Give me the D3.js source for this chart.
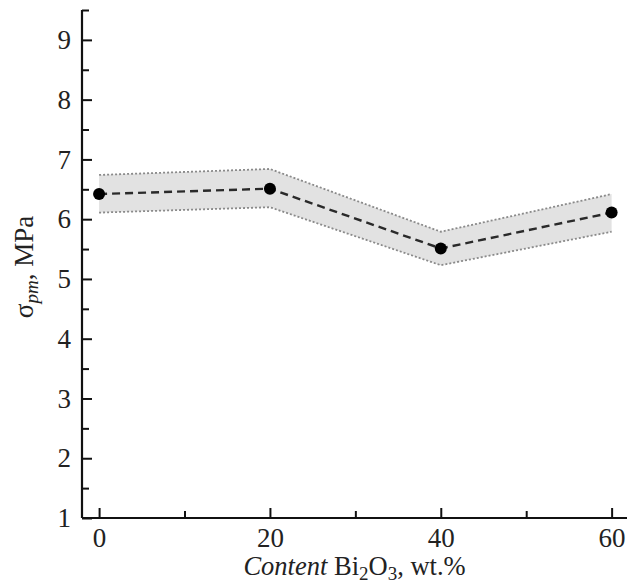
<!DOCTYPE html>
<html>
<head>
<meta charset="utf-8">
<script src="https://cdn.jsdelivr.net/npm/d3@7"></script>
<style>
  body { margin: 0; background: #fff; }
  text { font-family: "Liberation Serif", "DejaVu Serif", serif; fill: #222; }
</style>
</head>
<body>
<div id="container"></div>
<script>
const contents = [0, 20, 40, 60];
const stress = [6.42, 6.51, 5.51, 6.11];
const upper = [6.74, 6.84, 5.79, 6.42];
const lower = [6.11, 6.2, 5.23, 5.79];
const xTicks = [0, 20, 40, 60];
const yTicks = [1, 2, 3, 4, 5, 6, 7, 8, 9];

const data = contents.map((c, i) => ({
  x: c, y: stress[i], hi: upper[i], lo: lower[i]
}));

const margin = {top: 10, right: 10, bottom: 65, left: 82};
const width = 637 - margin.left - margin.right;
const height = 583 - margin.top - margin.bottom;

const svg = d3.select("#container")
  .append("svg")
  .attr("width", 637)
  .attr("height", 583)
  .append("g")
  .attr("transform", "translate(" + margin.left + "," + margin.top + ")");

const x = d3.scaleLinear().domain([-2, 61.8]).range([0, width]);
const y = d3.scaleLinear().domain([1, 9.5]).range([height, 0]);

// shaded band
const area = d3.area()
  .x(d => x(d.x))
  .y0(d => y(d.lo))
  .y1(d => y(d.hi));

svg.append("path")
  .datum(data)
  .attr("d", area)
  .attr("fill", "#e2e2e2");

["hi", "lo"].forEach(k => {
  svg.append("path")
    .datum(data)
    .attr("d", d3.line().x(d => x(d.x)).y(d => y(d[k])))
    .attr("fill", "none")
    .attr("stroke", "#8a8a8a")
    .attr("stroke-width", 1.8)
    .attr("stroke-dasharray", "2,2");
});

// dashed mean line
svg.append("path")
  .datum(data)
  .attr("d", d3.line().x(d => x(d.x)).y(d => y(d.y)))
  .attr("fill", "none")
  .attr("stroke", "#2a2a2a")
  .attr("stroke-width", 2.4)
  .attr("stroke-dasharray", "8,5");

svg.selectAll(".dot")
  .data(data)
  .enter()
  .append("circle")
  .attr("class", "dot")
  .attr("cx", d => x(d.x))
  .attr("cy", d => y(d.y))
  .attr("r", 6)
  .attr("fill", "#000");

// axes with inward ticks
const yMinor = d3.range(1.5, 10, 1);
const xMinor = [10, 30, 50];

const yAx = svg.append("g").attr("class", "y axis")
  .call(d3.axisLeft(y).tickValues(yTicks).tickSize(-10).tickPadding(11).tickFormat(d3.format("d")));
svg.append("g")
  .call(d3.axisLeft(y).tickValues(yMinor).tickSize(-7).tickFormat(""))
  .select(".domain").remove();

const xAx = svg.append("g").attr("class", "x axis")
  .attr("transform", "translate(0," + height + ")")
  .call(d3.axisBottom(x).tickValues(xTicks).tickSize(-10).tickPadding(10).tickFormat(d3.format("d")));
svg.append("g")
  .attr("transform", "translate(0," + height + ")")
  .call(d3.axisBottom(x).tickValues(xMinor).tickSize(-7).tickFormat(""))
  .select(".domain").remove();

svg.selectAll(".domain").attr("stroke", "#111").attr("stroke-width", 2.2);
svg.selectAll(".tick line").attr("stroke", "#111").attr("stroke-width", 2);
svg.selectAll(".tick text").style("font-family", "Liberation Serif, serif").style("font-size", "27px").attr("fill", "#222");
yAx.selectAll(".domain").attr("d", "M0," + y(9.5) + "V" + height);
xAx.select(".domain").attr("d", "M0,0H" + width);

// axis titles
const xt = svg.append("text")
  .attr("x", width / 2)
  .attr("y", height + 57)
  .attr("text-anchor", "middle")
  .style("font-size", "26.5px");
xt.append("tspan").style("font-style", "italic").text("Content");
xt.append("tspan").text(" Bi");
xt.append("tspan").attr("baseline-shift", "-25%").style("font-size", "19px").text("2");
xt.append("tspan").text("O");
xt.append("tspan").attr("baseline-shift", "-25%").style("font-size", "19px").text("3");
xt.append("tspan").text(", wt.%");

const yt = svg.append("text")
  .attr("transform", "translate(-49," + (height / 2 + 3) + ") rotate(-90)")
  .attr("text-anchor", "middle")
  .style("font-size", "27px");
yt.append("tspan").text("σ");
yt.append("tspan").attr("baseline-shift", "-25%").style("font-size", "19px").style("font-style", "italic").text("pm");
yt.append("tspan").text(", MPa");
</script>
</body>
</html>
